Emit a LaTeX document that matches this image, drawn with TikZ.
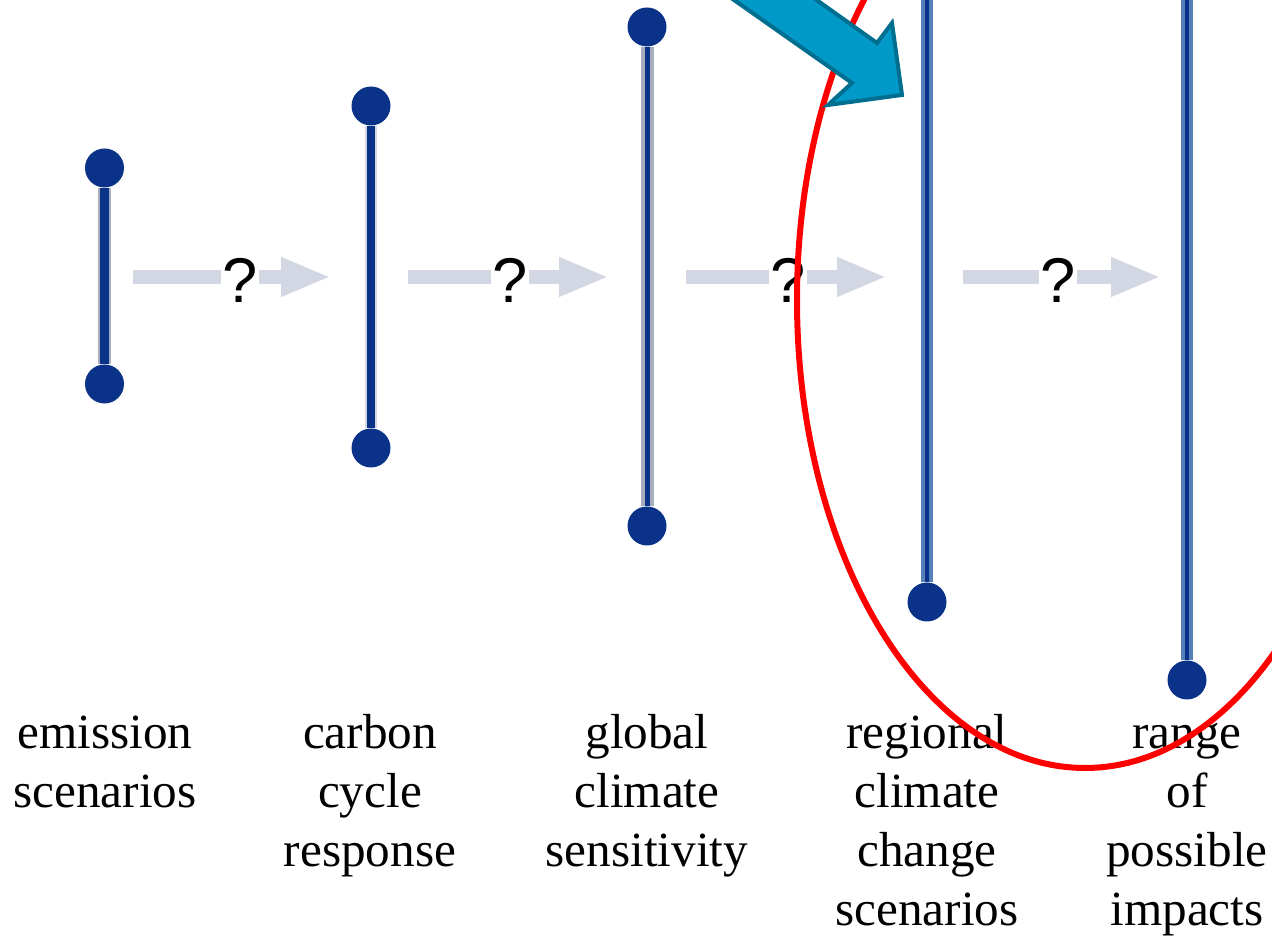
\documentclass[tikz,border=0pt]{standalone}
\usepackage{fontspec}
\setmainfont{Liberation Serif}
\setsansfont{Liberation Sans}
\usepackage{xcolor}
\usetikzlibrary{shapes,arrows.meta,positioning,calc}

\definecolor{bardark}{HTML}{0A3289}
\definecolor{bargrey}{HTML}{A7ADBA}
\definecolor{barpale}{HTML}{D3D6E3}
\definecolor{barblue}{HTML}{5580BA}
\definecolor{flowgrey}{HTML}{D3D6E3}
\definecolor{hintfill}{HTML}{0099C8}
\definecolor{hintedge}{HTML}{006E8F}

\begin{document}
\begin{tikzpicture}[
    dot/.style={circle, fill=bardark, inner sep=0pt, minimum size=0.39cm},
    barout/.style={line width=0.12cm},
    barin/.style={draw=bardark, line width=0.05cm},
    flow/.style={-{Triangle[length=0.5cm, width=0.36cm]}, line width=0.14cm, draw=flowgrey},
    qmark/.style={fill=white, inner sep=0.4pt, font=\sffamily\fontsize{18}{18}\selectfont},
    caption/.style={anchor=north, align=center, inner sep=0pt, font=\fontsize{14}{16.8}\selectfont},
    ring/.style={draw=red, line width=0.06cm},
    hint/.style={fill=hintfill, draw=hintedge, line width=0.04cm, line join=miter}
]
    \useasboundingbox (0,0) rectangle (12.72,9.39);
    \clip (0,0) rectangle (12.72,9.39);

    % ranges
    \node [dot] (e1) at (1.045,7.71) {};
    \node [dot] (e2) at (1.045,5.55) {};
    \node [dot] (c1) at (3.71,8.33) {};
    \node [dot] (c2) at (3.71,4.91) {};
    \node [dot] (g1) at (6.47,9.12) {};
    \node [dot] (g2) at (6.47,4.13) {};
    \coordinate (r1) at (9.27,9.6);
    \node [dot] (r2) at (9.27,3.37) {};
    \coordinate (p1) at (11.87,9.6);
    \node [dot] (p2) at (11.87,2.59) {};

    \draw [barout, draw=bargrey, line width=0.13cm] (e1) -- (e2);
    \draw [barin, line width=0.09cm, xshift=0.02cm] (e1) -- (e2);
    \draw [barout, draw=barpale] (c1) -- (c2);
    \draw [barin, line width=0.08cm, xshift=-0.02cm] (c1) -- (c2);
    \draw [barout, draw=bargrey, line width=0.13cm] (g1) -- (g2);
    \draw [barin] (g1) -- (g2);
    \draw [barout, draw=barblue] (r1) -- (r2);
    \draw [barin, line width=0.045cm] (r1) -- (r2);
    \draw [barout, draw=barblue] (p1) -- (p2);
    \draw [barin, line width=0.045cm] (p1) -- (p2);

    % uncertain steps
    \coordinate (a1s) at (1.33,6.62);  \coordinate (a1e) at (3.31,6.62);
    \coordinate (a2s) at (4.08,6.62);  \coordinate (a2e) at (6.09,6.62);
    \coordinate (a3s) at (6.86,6.62);  \coordinate (a3e) at (8.87,6.62);
    \coordinate (a4s) at (9.63,6.62);  \coordinate (a4e) at (11.61,6.62);
    \draw [flow] (a1s) -- (a1e);
    \draw [flow] (a2s) -- (a2e);
    \draw [flow] (a3s) -- (a3e);
    \draw [flow] (a4s) -- (a4e);
    \node [qmark] (q1) at (2.40,6.59) {?};
    \node [qmark] (q2) at (5.10,6.59) {?};
    \node [qmark] (q3) at (7.88,6.59) {?};
    \node [qmark] (q4) at (10.58,6.59) {?};

    % names
    \node [caption] (t1) at (1.05,2.33) {\strut emission\\scenarios};
    \node [caption] (t2) at (3.70,2.33) {\strut carbon\\cycle\\response};
    \node [caption] (t3) at (6.47,2.33) {\strut global\\climate\\sensitivity};
    \node [caption] (t4) at (9.27,2.33) {\strut regional\\climate\\change\\scenarios};
    \node [caption] (t5) at (11.87,2.33) {\strut range\\of\\possible\\impacts};

    % highlight
    \draw [ring] (10.85,6.39) ellipse [x radius=2.88cm, y radius=4.68cm];
    \draw [hint] (6.33,10.10) -- (7.17,10.10) -- (8.77,8.96) -- (8.92,9.16)
        -- (9.02,8.44) -- (8.28,8.34) -- (8.52,8.56) -- cycle;
\end{tikzpicture}
\end{document}
